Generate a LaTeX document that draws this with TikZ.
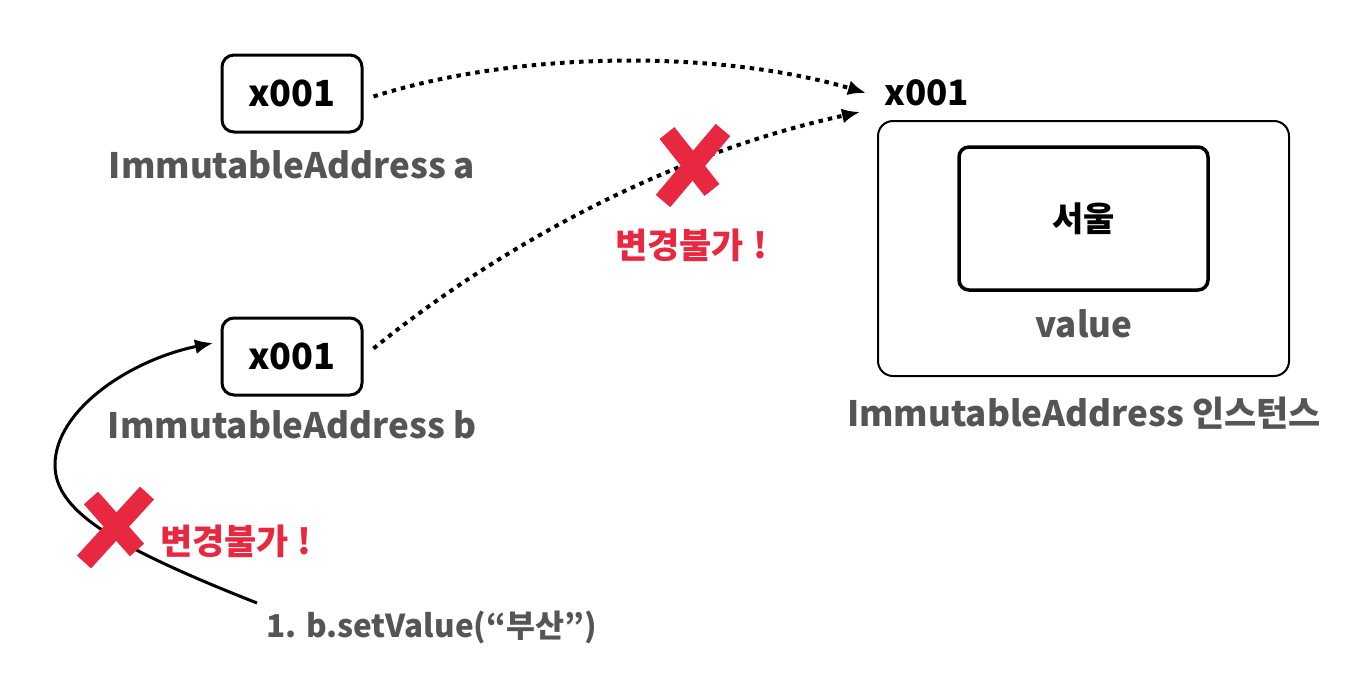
\documentclass[tikz,border=0pt]{standalone}
\usepackage{fontspec}
\setmainfont{Noto Sans CJK KR}
\usetikzlibrary{arrows.meta}
\definecolor{txtgray}{RGB}{85,85,85}
\definecolor{xred}{RGB}{232,40,64}
\tikzset{
  addrbox/.style={draw=black, line width=3pt, rounded corners=12pt, minimum width=140pt, minimum height=77pt, inner sep=0pt, font=\fontsize{36}{40}\selectfont\bfseries},
  graylabel/.style={text=txtgray, inner sep=0pt, font=\fontsize{35}{40}\selectfont\bfseries},
  redlabel/.style={text=xred, inner sep=0pt, font=\fontsize{35}{40}\selectfont\bfseries},
  dotarrow/.style={line width=4pt, dash pattern=on 4.5pt off 5pt, -{Latex[length=18pt,width=15pt]}},
  solidarrow/.style={line width=3pt, -{Latex[length=18pt,width=15pt]}},
  xstroke/.style={draw=xred, line width=19pt},
}
\begin{document}
\begin{tikzpicture}[x=1pt,y=-1pt]
\useasboundingbox (0,0) rectangle (1349,681);
% left boxes
\node[addrbox] (a) at (292,93.5) {x001};
\node[graylabel] (alab) at (292,165) {ImmutableAddress a};
\node[addrbox] (b) at (292,356.5) {x001};
\node[graylabel] (blab) at (292,425) {ImmutableAddress b};
% instance
\node[draw=black, line width=2pt, rounded corners=15pt, minimum width=411pt, minimum height=255pt, inner sep=0pt] (inst) at (1083.5,248.5) {};
\node[draw=black, line width=3.5pt, rounded corners=10pt, minimum width=249pt, minimum height=143pt, inner sep=0pt, font=\fontsize{34}{38}\selectfont\bfseries] (inner) at (1083.5,218.5) {서울};
\node[graylabel] (val) at (1084,324) {value};
\node[graylabel] (instlab) at (1084,413) {ImmutableAddress 인스턴스};
\node[inner sep=0pt, anchor=west, font=\fontsize{35}{40}\selectfont\bfseries] (top) at (884,93) {x001};
% dotted arrows
\coordinate (aend) at (866,93);
\coordinate (bend) at (860,112);
\draw[dotarrow] ([xshift=10pt,yshift=-3pt]a.east) .. controls (520,50) and (720,50) .. (aend);
\draw[dotarrow] ([xshift=10pt,yshift=8pt]b.east) .. controls (470,270) and (640,160) .. (bend);
% solid arrow
\node[graylabel, anchor=west, font=\fontsize{31.5}{36}\selectfont\bfseries] (call) at (266,627) {1. b.setValue(“부산”)};
\coordinate (cstart) at (257,603);
\coordinate (cleft) at (55,465);
\coordinate (cend) at (213,343);
\draw[solidarrow] (cstart) .. controls (110,545) and (55,510) .. (cleft) .. controls (55,410) and (130,360) .. (cend);
% red crosses
\draw[xstroke] (667,133) -- (712,190);
\draw[xstroke] (723,130) -- (663,201);
\node[redlabel, anchor=west] (r1) at (615,245) {변경불가\hspace{9pt}!};
\draw[xstroke] (91,498) -- (137,550);
\draw[xstroke] (147,493) -- (84,562);
\node[redlabel, anchor=west] (r2) at (160,541) {변경불가\hspace{9pt}!};
\end{tikzpicture}
\end{document}
